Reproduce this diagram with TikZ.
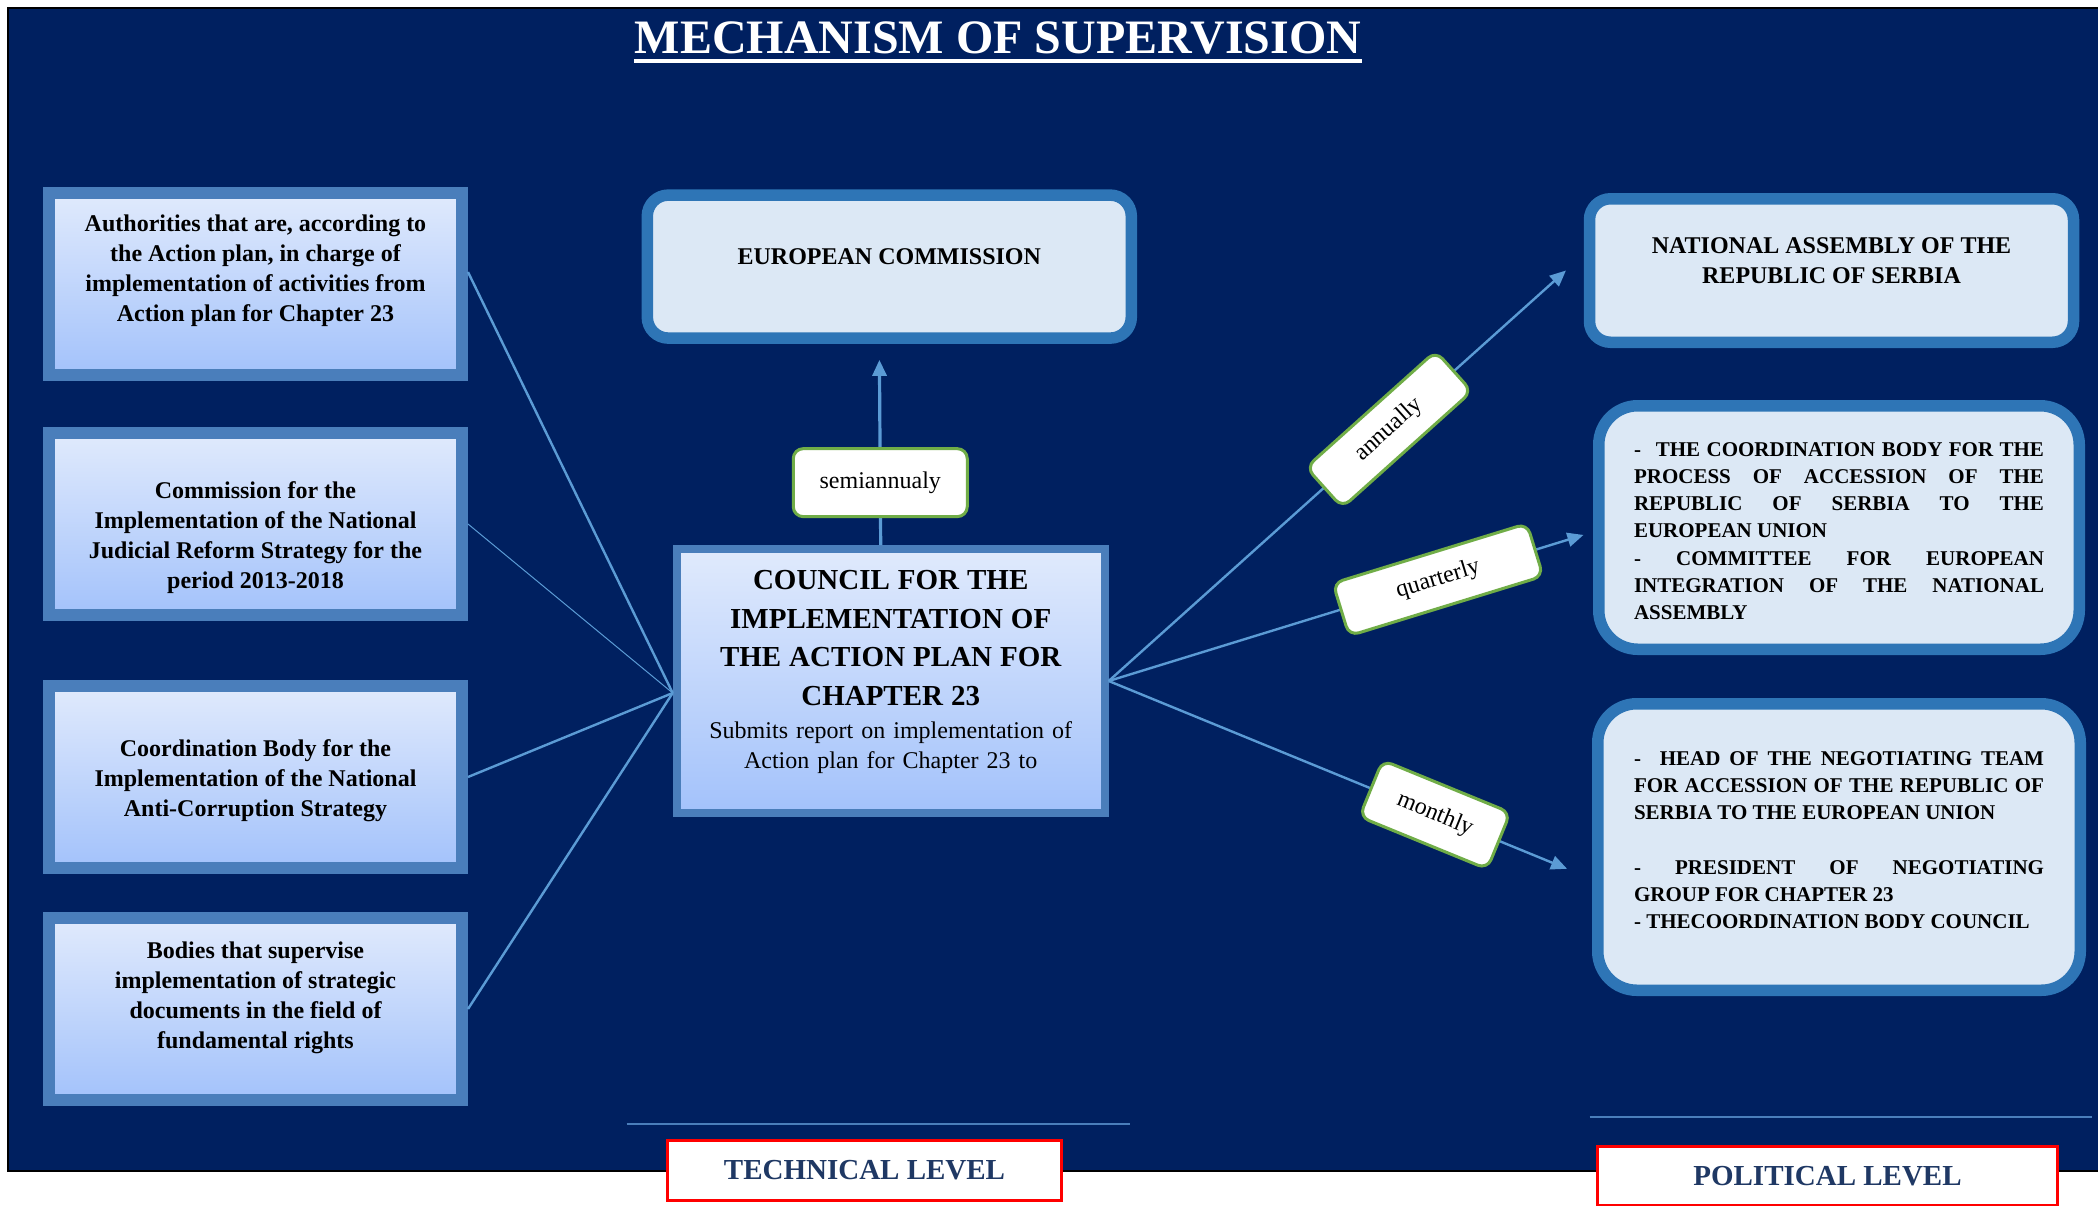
\documentclass[tikz,border=0pt]{standalone}
\usepackage{fontspec}
\setmainfont{Liberation Serif}
\usepackage{tikz}
\usetikzlibrary{arrows.meta, positioning, calc, shadows}

\definecolor{navybg}{HTML}{002060}
\definecolor{boxedge}{HTML}{4A7EBB}
\definecolor{boxtop}{HTML}{E0EAFC}
\definecolor{boxbottom}{HTML}{A3C2FB}
\definecolor{roundedge}{HTML}{2E75B6}
\definecolor{roundfill}{HTML}{DCE8F5}
\definecolor{linkblue}{HTML}{5B9BD5}
\definecolor{freqgreen}{HTML}{70AD47}
\definecolor{leveltext}{HTML}{1F3864}

\begin{document}
\begin{tikzpicture}[x=0.5pt, y=-0.5pt, >={Triangle[length=8pt, width=7pt]},
    leftbox/.style={rectangle, draw=boxedge, line width=6pt, top color=boxtop, bottom color=boxbottom,
        minimum width=206.5pt, minimum height=91pt, align=center,
        font=\fontsize{12}{15}\selectfont\bfseries,
        drop shadow={shadow xshift=0pt, shadow yshift=-2pt, fill=black, opacity=0.5}},
    councilbox/.style={rectangle, draw=boxedge, line width=4pt, top color=boxtop, bottom color=boxbottom,
        minimum width=214pt, minimum height=132pt, align=center, text width=205pt,
        font=\fontsize{12}{15}\selectfont,
        drop shadow={shadow xshift=0pt, shadow yshift=-2pt, fill=black, opacity=0.5}},
    roundbox/.style={rectangle, draw=roundedge, line width=5.75pt, fill=roundfill, rounded corners=10.5pt,
        font=\fontsize{12}{15}\selectfont\bfseries, align=center},
    listbox/.style={roundbox, rounded corners=19.5pt, text width=205pt, align=justify,
        font=\fontsize{10.5}{13.6}\selectfont\bfseries,
        execute at begin node={\setlength{\parindent}{0pt}\hyphenpenalty=10000\tolerance=9999}},
    freq/.style={rectangle, draw=freqgreen, line width=1.5pt, fill=white, rounded corners=5pt,
        inner sep=0pt, font=\fontsize{12}{14}\selectfont},
    level/.style={rectangle, draw=red, line width=1.5pt, fill=white, text=leveltext,
        font=\fontsize{14.5}{17}\selectfont\bfseries},
    link/.style={draw=linkblue, line width=1.2pt}]

    \useasboundingbox (0,0) rectangle (2098,1205);

    % Background
    \fill[navybg, draw=black, line width=1.2pt] (8,8) rectangle (2120,1171);

    % Title
    \node[text=white, font=\fontsize{24}{28}\selectfont\bfseries, inner sep=0pt, anchor=base] (title) at (998,53.3) {MECHANISM OF SUPERVISION};
    \draw[white, line width=2pt] ([yshift=-3.7pt]title.base west) -- ([yshift=-3.7pt]title.base east);

    % Nodes
    \node[leftbox, text depth=16pt] (auth) at (255.5,284) {Authorities that are, according to\\the Action plan, in charge of\\implementation of activities from\\Action plan for Chapter 23};
    \node[leftbox, text height=67pt, below=23pt of auth] (jrs) {Commission for the\\Implementation of the National\\Judicial Reform Strategy for the\\period 2013-2018};
    \node[leftbox, text height=42pt, below=29.5pt of jrs] (acs) {Coordination Body for the\\Implementation of the National\\Anti-Corruption Strategy};
    \node[leftbox, text depth=13.5pt, below=19pt of acs] (fundr) {Bodies that supervise\\implementation of strategic\\documents in the field of\\fundamental rights};

    \node[councilbox, text height=0.9pt] (council) at (890.7,681) {\fontsize{14.5}{19.2}\selectfont\bfseries COUNCIL FOR THE\\IMPLEMENTATION OF\\THE ACTION PLAN FOR\\CHAPTER 23\\[1.8pt]\fontsize{12}{15}\selectfont\mdseries Submits report on implementation of\\Action plan for Chapter 23 to};

    \node[roundbox, minimum width=242pt, minimum height=71.5pt, text depth=10pt] (eurcom) at (889.3,266.6) {EUROPEAN COMMISSION};
    \node[roundbox, minimum width=242pt, minimum height=71.75pt, text depth=9.5pt] (natasm) at (1831.5,270.5) {NATIONAL ASSEMBLY OF THE\\REPUBLIC OF SERBIA};
    \node[listbox, minimum width=240.25pt, minimum height=121.75pt, text height=10.5pt] (accbody) at (1839,527.5) {-\hspace{0.4em} THE COORDINATION BODY FOR THE\linebreak PROCESS OF ACCESSION OF THE\linebreak REPUBLIC OF SERBIA TO THE\linebreak EUROPEAN UNION\par - COMMITTEE FOR EUROPEAN\linebreak INTEGRATION OF THE NATIONAL\linebreak ASSEMBLY};
    \node[listbox, minimum width=241.25pt, minimum height=143.25pt, text height=-1pt] (negteam) at (1839,847) {-\hspace{0.9em}HEAD OF THE NEGOTIATING TEAM\linebreak FOR ACCESSION OF THE REPUBLIC OF\linebreak SERBIA TO THE EUROPEAN UNION\par\vspace{13.6pt}- PRESIDENT OF NEGOTIATING\linebreak GROUP FOR CHAPTER 23\par - THECOORDINATION BODY COUNCIL};

    \node[level, minimum width=197pt, minimum height=30pt] (techlvl) at (864.5,1170.5) {TECHNICAL LEVEL};
    \node[level, minimum width=230pt, minimum height=29.5pt] (pollvl) at (1827.5,1176) {POLITICAL LEVEL};
    \draw[boxedge, line width=1pt] (626.5,1124) -- (1130,1124);
    \draw[boxedge, line width=1pt] (1589.5,1117) -- (2092,1117);

    \coordinate (cin) at ([yshift=-6pt]council.west);

    \draw[link] ([yshift=6pt]auth.east) -- (cin);
    \draw[link, line width=0.5pt] (jrs.east) -- (cin);
    \draw[link] (acs.east) -- (cin);
    \draw[link] (fundr.east) -- (cin);

    \draw[link, ->, line width=1.6pt, shorten >=8pt] ([xshift=-5pt]council.north) -- node[freq, pos=0.31, minimum width=87pt, minimum height=34pt] {semiannualy} ([xshift=-5pt]eurcom.south);
    \draw[link, ->, shorten >=12pt] (council.east) -- node[freq, sloped, pos=0.59, minimum width=87pt, minimum height=27pt] {annually} ([yshift=8pt]natasm.west);
    \draw[link, ->, shorten >=5pt] (council.east) -- node[freq, sloped, pos=0.68, minimum width=101.5pt, minimum height=27.5pt] {quarterly} ([yshift=-2.25pt]accbody.west);
    \draw[link, ->, shorten >=13.5pt] (council.east) -- node[freq, sloped, pos=0.675, minimum width=69pt, minimum height=30.5pt] {monthly} ([yshift=-16pt]negteam.west);
\end{tikzpicture}
\end{document}
